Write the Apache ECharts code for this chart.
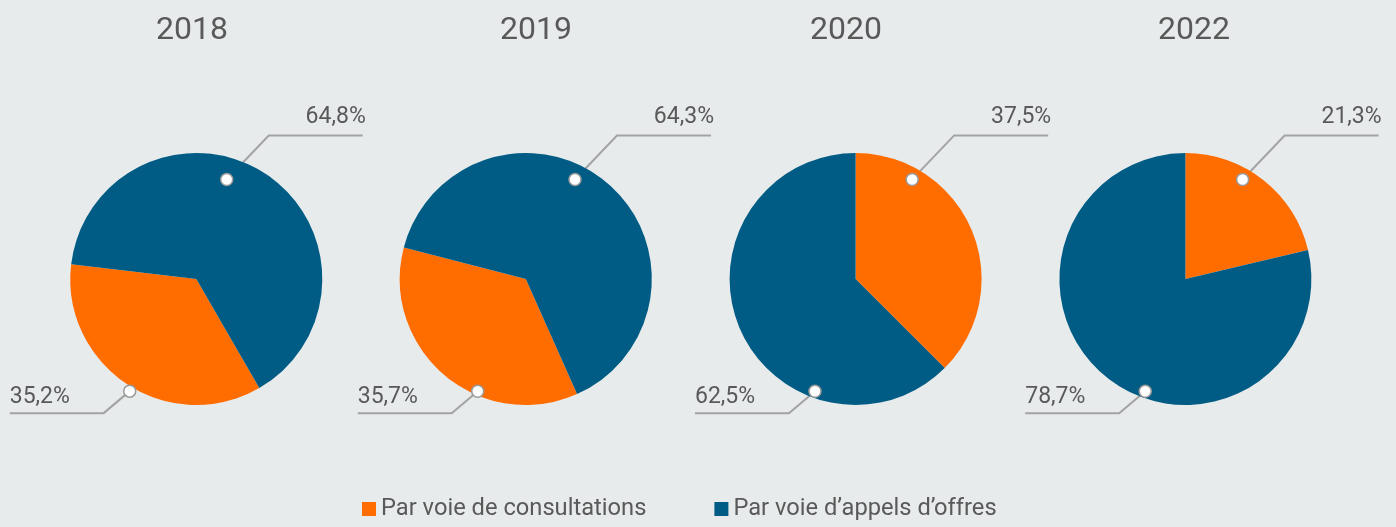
<!DOCTYPE html>
<html>
  <head>
    <meta charset="UTF-8">
    <script src="https://cdn.jsdelivr.net/npm/echarts@6/dist/echarts.min.js"></script>
    <title>Marchés par mode de passation</title>
    <style>
      body { margin: 0; background: #e8ebec; }
    </style>
  </head>
  <body>
    <div id="main" style="width: 1396px;height:527px;"></div>
    <script type="text/javascript">
      var years = ['2018', '2019', '2020', '2022'];
      var categories = ['Par voie de consultations', 'Par voie d’appels d’offres'];
      var consultations = [35.2, 35.7, 37.5, 21.3];
      var appelsOffres = [64.8, 64.3, 62.5, 78.7];

      // slice that carries the upper right label (0 = consultations, 1 = appels d'offres)
      var topLabel = [1, 1, 0, 0];
      // where the first slice starts, in degrees
      var startAngles = [300, 294, 90, 90];
      // start of the leader lines, [share of radius, angle in degrees]
      var topDots = [[0.826, 73.0], [0.881, 63.7], [0.909, 60.4], [0.911, 60.1]];
      var bottomDots = [[1.035, 239.3], [0.969, 246.8], [0.947, 250.1], [0.946, 250.3]];

      var colors = ['#ff6c00', '#005c84'];
      var textColor = '#595959';
      var lineColor = '#a3a3a3';
      var pieX = [196.3, 525.8, 855.6, 1185.4];
      var titleX = [192, 536, 846, 1194];
      var pieY = 279;
      var R = 126;
      var RMAX = 1.2; // polar axis runs a little past the pie edge

      var myChart = echarts.init(document.getElementById('main'));

      function fmt(v) {
        return v.toFixed(1).replace('.', ',') + '%';
      }

      function dotPixel(i, d) {
        var a = d[1] * Math.PI / 180;
        return [pieX[i] + d[0] * R * Math.cos(a), pieY - d[0] * R * Math.sin(a)];
      }

      // puts each label on its own leader line
      function layoutFor(i) {
        return function (p) {
          var up = p.dataIndex === topLabel[i];
          var p0 = dotPixel(i, up ? topDots[i] : bottomDots[i]);
          var p1, p2;
          if (up) {
            p1 = [p0[0] + 42, p0[1] - 44];
            p2 = [p1[0] + 94, p1[1]];
            return { x: p2[0] + 3, y: p1[1] - 18, align: 'right', verticalAlign: 'middle',
                     labelLinePoints: [p0, p1, p2] };
          }
          p1 = [p0[0] - 26, p0[1] + 22];
          p2 = [p1[0] - 94, p1[1]];
          return { x: p2[0], y: p1[1] - 16, align: 'left', verticalAlign: 'middle',
                   labelLinePoints: [p0, p1, p2] };
        };
      }

      var series = [];
      var titles = [];
      var polars = [];
      var angleAxes = [];
      var radiusAxes = [];

      years.forEach(function (y, i) {
        titles.push({
          text: y,
          left: titleX[i] - 5,
          top: 10,
          textAlign: 'center',
          textStyle: { fontFamily: 'Roboto', fontSize: 32, fontWeight: 'normal', color: textColor }
        });
        series.push({
          type: 'pie',
          name: y,
          center: [pieX[i], pieY],
          radius: R,
          startAngle: startAngles[i],
          clockwise: true,
          avoidLabelOverlap: false,
          silent: true,
          animation: false,
          data: [
            { name: categories[0], value: consultations[i], itemStyle: { color: colors[0] } },
            { name: categories[1], value: appelsOffres[i], itemStyle: { color: colors[1] } }
          ],
          label: {
            position: 'outside',
            formatter: function (p) { return fmt(p.value); },
            fontFamily: 'Roboto',
            fontSize: 23,
            lineHeight: 23,
            color: textColor
          },
          labelLine: { show: true, lineStyle: { color: lineColor, width: 2 } },
          labelLayout: layoutFor(i)
        });
        polars.push({ center: [pieX[i], pieY], radius: R * RMAX });
        angleAxes.push({ polarIndex: i, type: 'value', min: 0, max: 360, startAngle: 0, clockwise: false, show: false });
        radiusAxes.push({ polarIndex: i, type: 'value', min: 0, max: RMAX, show: false });
      });

      years.forEach(function (y, i) {
        series.push({
          type: 'scatter',
          coordinateSystem: 'polar',
          polarIndex: i,
          silent: true,
          animation: false,
          z: 10,
          symbol: 'circle',
          symbolSize: 12,
          itemStyle: { color: '#ffffff', borderColor: '#9a9a9a', borderWidth: 1.5, opacity: 1 },
          data: [topDots[i], bottomDots[i]]
        });
      });

      var option = {
        backgroundColor: '#e8ebec',
        title: titles,
        polar: polars,
        angleAxis: angleAxes,
        radiusAxis: radiusAxes,
        legend: {
          data: categories,
          left: 357,
          top: 492,
          icon: 'rect',
          itemWidth: 14,
          itemHeight: 14,
          itemGap: 68,
          selectedMode: false,
          textStyle: { fontFamily: 'Roboto', fontSize: 23.7, color: textColor }
        },
        series: series
      };

      myChart.setOption(option);
    </script>
  </body>
</html>
